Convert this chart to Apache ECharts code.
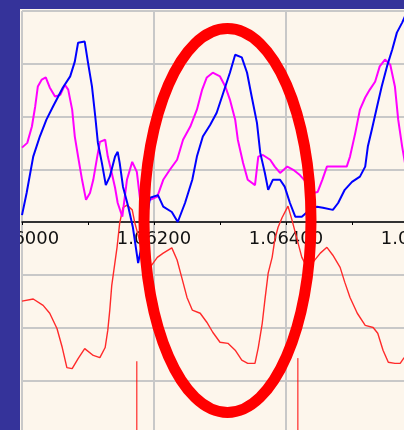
<!DOCTYPE html>
<html>
<head>
<meta charset="utf-8">
<script src="https://cdn.jsdelivr.net/npm/echarts@6/dist/echarts.min.js"></script>
<style>
  html, body { margin: 0; padding: 0; background: #fdf6ec; }
  #chart-container { width: 404px; height: 430px; }
</style>
</head>
<body>
<div id="chart-container"></div>
<script>
// x = price, y = oscillator value (grid line every 1.0, x axis at 0)
var xTicks = [1.060, 1.062, 1.064, 1.066];

var blueLine = [
  [1.06000, 0.13], [1.06007, 0.55], [1.06017, 1.24], [1.06027, 1.62], [1.06037, 1.94],
  [1.06047, 2.19], [1.06062, 2.55], [1.06073, 2.76], [1.06080, 3.04], [1.06085, 3.40],
  [1.06095, 3.42], [1.06100, 3.02], [1.06106, 2.57], [1.06111, 2.00], [1.06115, 1.50],
  [1.06121, 1.12], [1.06127, 0.70], [1.06133, 0.86], [1.06141, 1.24], [1.06145, 1.33],
  [1.06148, 1.12], [1.06153, 0.67], [1.06161, 0.29], [1.06168, -0.10], [1.06176, -0.78],
  [1.06186, -0.15], [1.06194, 0.46], [1.06206, 0.51], [1.06214, 0.29], [1.06227, 0.19],
  [1.06236, 0.00], [1.06247, 0.36], [1.06258, 0.80], [1.06265, 1.24], [1.06274, 1.62],
  [1.06285, 1.84], [1.06295, 2.07], [1.06305, 2.45], [1.06315, 2.83], [1.06323, 3.17],
  [1.06333, 3.12], [1.06341, 2.83], [1.06348, 2.38], [1.06356, 1.88], [1.06361, 1.31],
  [1.06368, 0.93], [1.06373, 0.61], [1.06380, 0.80], [1.06391, 0.80], [1.06398, 0.67],
  [1.06406, 0.36], [1.06414, 0.10], [1.06424, 0.10], [1.06436, 0.23], [1.06447, 0.29],
  [1.06456, 0.27], [1.06471, 0.23], [1.06479, 0.36], [1.06489, 0.61], [1.06500, 0.76],
  [1.06512, 0.86], [1.06520, 1.05], [1.06524, 1.43], [1.06530, 1.75], [1.06538, 2.19],
  [1.06545, 2.57], [1.06553, 2.95], [1.06561, 3.27], [1.06568, 3.59], [1.06576, 3.78],
  [1.06585, 4.03]
];

var magentaLine = [
  [1.06000, 1.41], [1.06008, 1.50], [1.06015, 1.81], [1.06020, 2.19], [1.06024, 2.57],
  [1.06030, 2.70], [1.06036, 2.74], [1.06042, 2.55], [1.06050, 2.38], [1.06058, 2.41],
  [1.06065, 2.60], [1.06070, 2.51], [1.06076, 2.13], [1.06080, 1.62], [1.06085, 1.24],
  [1.06091, 0.80], [1.06097, 0.42], [1.06103, 0.55], [1.06108, 0.80], [1.06114, 1.24],
  [1.06118, 1.52], [1.06126, 1.56], [1.06130, 1.24], [1.06136, 0.93], [1.06141, 0.65],
  [1.06145, 0.36], [1.06152, 0.10], [1.06159, 0.80], [1.06167, 1.14], [1.06174, 0.95],
  [1.06179, 0.42], [1.06186, 0.42], [1.06194, 0.42], [1.06205, 0.48], [1.06214, 0.80],
  [1.06224, 0.99], [1.06235, 1.18], [1.06244, 1.56], [1.06255, 1.81], [1.06265, 2.13],
  [1.06273, 2.51], [1.06280, 2.74], [1.06289, 2.83], [1.06300, 2.76], [1.06308, 2.57],
  [1.06315, 2.32], [1.06323, 1.94], [1.06327, 1.56], [1.06335, 1.12], [1.06342, 0.80],
  [1.06353, 0.70], [1.06358, 1.24], [1.06365, 1.27], [1.06376, 1.18], [1.06383, 1.05],
  [1.06391, 0.93], [1.06402, 1.05], [1.06411, 0.99], [1.06421, 0.89], [1.06432, 0.74],
  [1.06441, 0.55], [1.06448, 0.57], [1.06455, 0.80], [1.06462, 1.05], [1.06477, 1.05],
  [1.06492, 1.05], [1.06497, 1.24], [1.06505, 1.69], [1.06512, 2.13], [1.06520, 2.36],
  [1.06527, 2.51], [1.06535, 2.66], [1.06542, 2.95], [1.06550, 3.08], [1.06558, 2.98],
  [1.06565, 2.57], [1.06570, 1.94], [1.06576, 1.43], [1.06582, 0.99]
];

var redLine = [
  [1.06000, -1.50], [1.06017, -1.46], [1.06032, -1.58], [1.06042, -1.73], [1.06053, -2.02],
  [1.06061, -2.38], [1.06068, -2.76], [1.06076, -2.78], [1.06085, -2.59], [1.06095, -2.40],
  [1.06108, -2.53], [1.06118, -2.57], [1.06126, -2.38], [1.06130, -2.05], [1.06133, -1.67],
  [1.06136, -1.20], [1.06144, -0.48], [1.06148, -0.02], [1.06153, 0.27], [1.06159, 0.32],
  [1.06167, 0.23], [1.06171, -0.02], [1.06176, -0.25], [1.06186, -0.76], [1.06194, -0.86],
  [1.06205, -0.67], [1.06214, -0.59], [1.06227, -0.49], [1.06235, -0.72], [1.06242, -1.05],
  [1.06250, -1.43], [1.06258, -1.67], [1.06270, -1.73], [1.06280, -1.90], [1.06289, -2.09],
  [1.06300, -2.28], [1.06312, -2.30], [1.06323, -2.43], [1.06333, -2.62], [1.06342, -2.68],
  [1.06353, -2.68], [1.06358, -2.38], [1.06364, -1.92], [1.06368, -1.48], [1.06373, -0.97],
  [1.06379, -0.67], [1.06383, -0.34], [1.06388, -0.10], [1.06394, 0.08], [1.06403, 0.30],
  [1.06409, 0.04], [1.06417, -0.34], [1.06424, -0.67], [1.06432, -0.86], [1.06441, -0.76],
  [1.06452, -0.59], [1.06462, -0.48], [1.06471, -0.63], [1.06482, -0.86], [1.06489, -1.14],
  [1.06497, -1.43], [1.06508, -1.73], [1.06520, -1.96], [1.06532, -2.00], [1.06539, -2.11],
  [1.06547, -2.43], [1.06555, -2.66], [1.06565, -2.68], [1.06573, -2.68], [1.06579, -2.57]
];

// vertical red markers at the bottom
var markerX = [1.06174, 1.06418];
var markerTop = [-2.64, -2.58];
var markerBottom = -4;

var dom = document.getElementById("chart-container");
var myChart = echarts.init(dom, null, { renderer: "canvas" });

var markerSeries = markerX.map(function (x, i) {
  return {
    name: "marker" + i,
    type: "line",
    showSymbol: false,
    silent: true,
    lineStyle: { color: "#ff0000", width: 1 },
    data: [[x, markerTop[i]], [x, markerBottom]]
  };
});

var option = {
  animation: false,
  backgroundColor: "#fdf6ec",
  grid: {
    left: 22, right: -14, top: 11, bottom: -3,
    containLabel: false,
    outerBoundsMode: "none"
  },
  xAxis: {
    type: "value",
    min: xTicks[0],
    max: xTicks[xTicks.length - 1],
    interval: 0.002,
    // axis sits at y = 0, half way up the plot
    offset: -211,
    axisLine: { onZero: false, lineStyle: { color: "#000", width: 1.5 } },
    axisTick: { show: true, length: 3, lineStyle: { color: "#000" } },
    minorTick: { show: true, splitNumber: 2, length: 3, lineStyle: { color: "#000" } },
    axisLabel: {
      show: true,
      showMinLabel: true,
      showMaxLabel: true,
      hideOverlap: false,
      color: "#111",
      fontFamily: "DejaVu Sans",
      fontSize: 18,
      margin: 8,
      formatter: function (v) { return Number(v).toFixed(5); }
    },
    splitLine: { show: true, lineStyle: { color: "#c8c8c8", width: 2 } }
  },
  yAxis: {
    type: "value",
    min: -4,
    max: 4,
    interval: 1,
    axisLine: { show: false },
    axisTick: { show: false },
    axisLabel: { show: false },
    splitLine: { show: true, lineStyle: { color: "#c8c8c8", width: 2 } }
  },
  series: [
    {
      name: "red",
      type: "line",
      showSymbol: false,
      lineStyle: { color: "#ff2a2a", width: 1.4 },
      data: redLine
    },
    {
      name: "magenta",
      type: "line",
      showSymbol: false,
      lineStyle: { color: "#ff00ff", width: 2 },
      data: magentaLine
    },
    {
      name: "blue",
      type: "line",
      showSymbol: false,
      lineStyle: { color: "#0000ff", width: 2 },
      data: blueLine
    }
  ].concat(markerSeries),
  graphic: [
    {
      type: "ellipse",
      z: 100,
      silent: true,
      shape: { cx: 227.5, cy: 220.5, rx: 83.5, ry: 192 },
      style: { fill: null, stroke: "#ff0000", lineWidth: 11 }
    },
    {
      type: "rect",
      z: 110,
      silent: true,
      shape: { x: 0, y: 0, width: 20, height: 430 },
      style: { fill: "#35339a" }
    },
    {
      type: "rect",
      z: 110,
      silent: true,
      shape: { x: 0, y: 0, width: 404, height: 9 },
      style: { fill: "#35339a" }
    }
  ]
};

myChart.setOption(option);
window.addEventListener("resize", myChart.resize);
</script>
</body>
</html>
